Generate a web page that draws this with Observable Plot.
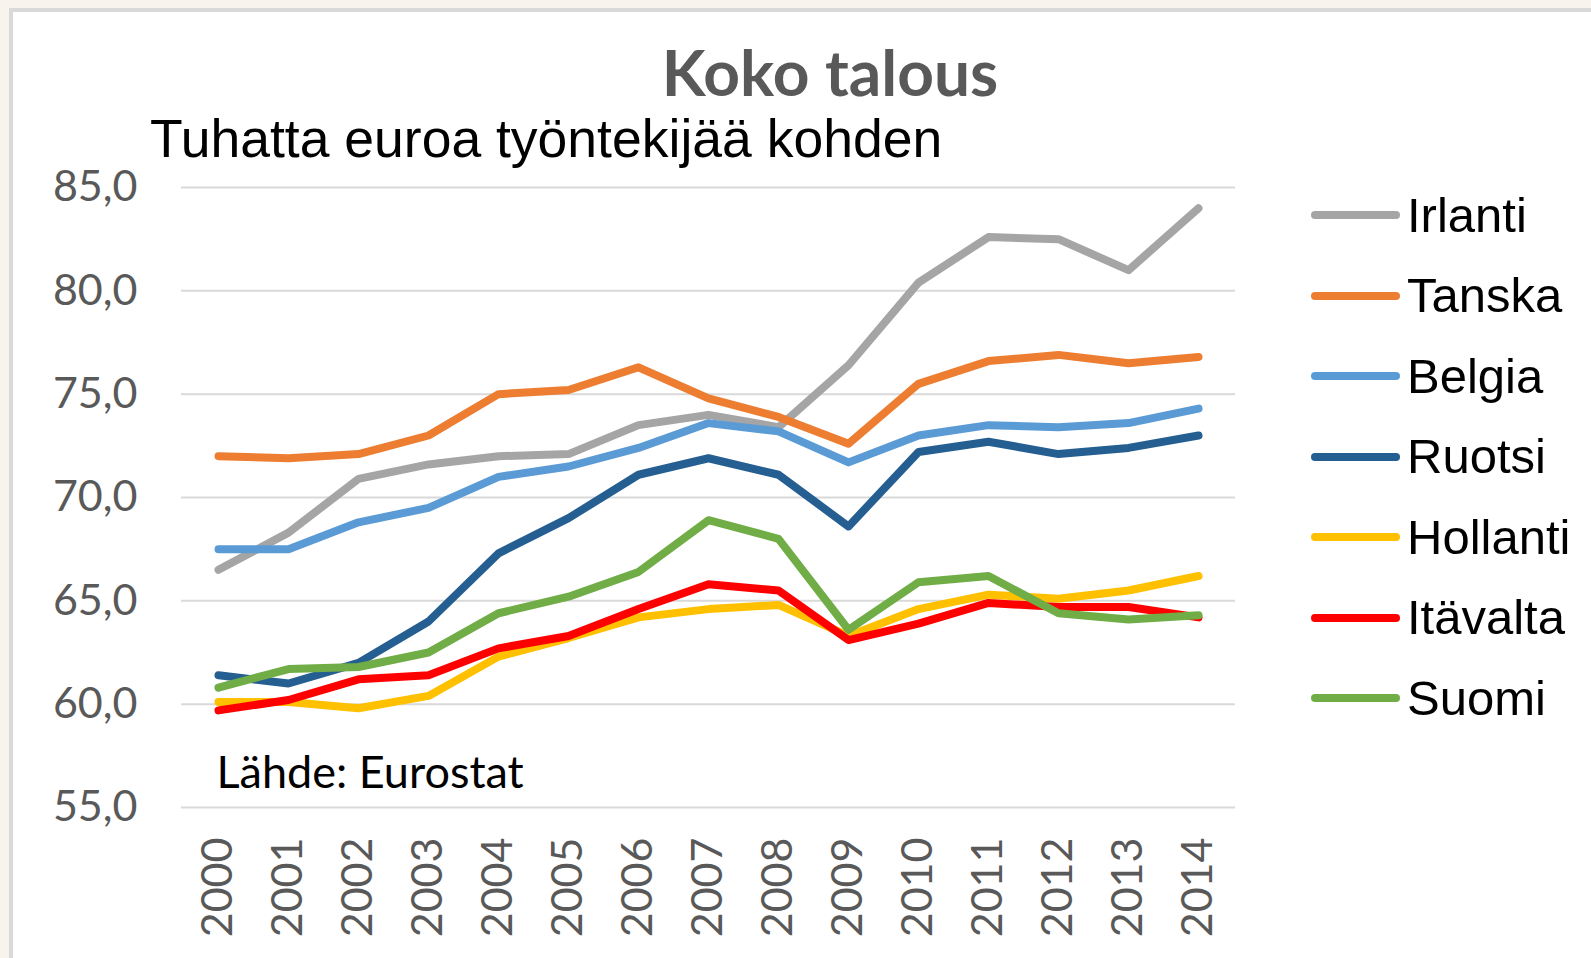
<!DOCTYPE html>
<html>
<head>
<meta charset="utf-8">
<script src="https://cdn.jsdelivr.net/npm/d3@7"></script>
<script src="https://cdn.jsdelivr.net/npm/@observablehq/plot@0.6"></script>
<style>
  html, body { margin: 0; padding: 0; }
  body { width: 1591px; height: 958px; overflow: hidden; position: relative; background: #f8f4ed; }
  #panel { position: absolute; left: 9px; top: 8px; width: 1600px; height: 970px; background: #ffffff;
           border-left: 4px solid #d9d9d9; border-top: 4px solid #d9d9d9; }
  #chart { position: absolute; left: 0; top: 0; }
  .txt { position: absolute; white-space: nowrap; line-height: 1; margin: 0; }
  #title { font-family: Lato, sans-serif; font-weight: 700; font-size: 64px; color: #595959; }
  #subtitle { font-family: "Liberation Sans", Arial, sans-serif; font-size: 53.5px; color: #000; }
  .leg-line { position: absolute; height: 8px; border-radius: 4px; }
  .leg-text { font-family: "Liberation Sans", Arial, sans-serif; font-size: 49px; color: #000; }
</style>
</head>
<body>
<div id="panel"></div>
<div id="chart"></div>
<h1 id="title" class="txt">Koko talous</h1>
<div id="subtitle" class="txt">Tuhatta euroa työntekijää kohden</div>
<div id="legend"></div>
<script>
// ---- data ----
const years = ["2000","2001","2002","2003","2004","2005","2006","2007","2008","2009","2010","2011","2012","2013","2014"];
const countries = ["Irlanti","Tanska","Belgia","Ruotsi","Hollanti","Itävalta","Suomi"];
const colors = ["#A5A5A5","#ED7D31","#5B9BD5","#255E91","#FFC000","#FF0000","#70AD47"];
const irlanti  = [66.5,68.3,70.9,71.6,72.0,72.1,73.5,74.0,73.4,76.4,80.4,82.6,82.5,81.0,84.0];
const tanska   = [72.0,71.9,72.1,73.0,75.0,75.2,76.3,74.8,73.9,72.6,75.5,76.6,76.9,76.5,76.8];
const belgia   = [67.5,67.5,68.8,69.5,71.0,71.5,72.4,73.6,73.2,71.7,73.0,73.5,73.4,73.6,74.3];
const ruotsi   = [61.4,61.0,62.0,64.0,67.3,69.0,71.1,71.9,71.1,68.6,72.2,72.7,72.1,72.4,73.0];
const hollanti = [60.1,60.1,59.8,60.4,62.3,63.2,64.2,64.6,64.8,63.3,64.6,65.3,65.1,65.5,66.2];
const itavalta = [59.7,60.2,61.2,61.4,62.7,63.3,64.6,65.8,65.5,63.1,63.9,64.9,64.7,64.7,64.2];
const suomi    = [60.8,61.7,61.8,62.5,64.4,65.2,66.4,68.9,68.0,63.6,65.9,66.2,64.4,64.1,64.3];
const yTicks = [55,60,65,70,75,80,85];
const source = "Lähde: Eurostat";

const series = [irlanti, tanska, belgia, ruotsi, hollanti, itavalta, suomi];
const rows = countries.flatMap((c, i) => years.map((y, j) => ({country: c, year: y, value: series[i][j]})));

const chart = Plot.plot({
  width: 1591,
  height: 958,
  marginLeft: 181,
  marginRight: 356,
  marginTop: 187,
  marginBottom: 151,
  style: {background: "transparent", fontFamily: "Lato, sans-serif", overflow: "visible"},
  x: {type: "point", domain: years, padding: 0.5},
  y: {domain: [55, 85]},
  color: {domain: countries, range: colors},
  marks: [
    Plot.ruleY(yTicks, {stroke: "#d9d9d9", strokeWidth: 2}),
    Plot.axisY({ticks: yTicks, tickSize: 0, tickPadding: 44, fontSize: 43, color: "#595959",
      tickFormat: d => d.toFixed(1).replace(".", ","), label: null}),
    Plot.axisX({tickRotate: -90, tickSize: 0, tickPadding: 30, fontSize: 43, color: "#595959", label: null}),
    Plot.lineY(rows, {x: "year", y: "value", z: "country", stroke: "country",
      strokeWidth: 8, strokeLinecap: "round", strokeLinejoin: "round"}),
    Plot.text([source], {text: d => d, frameAnchor: "bottom-left", textAnchor: "start",
      lineAnchor: "bottom", dx: 35, dy: -20, fontSize: 45, fill: "#000"})
  ]
});
document.getElementById("chart").appendChild(chart);

// ---- text positions (baseline based) ----
const title = document.getElementById("title");
title.style.left = "830px"; title.style.transform = "translateX(-50%)";
title.style.top = (97 - 0.887 * 64) + "px";
const sub = document.getElementById("subtitle");
sub.style.left = "150px"; sub.style.top = (157 - 0.8465 * 53.5) + "px";

// ---- legend ----
const legend = document.getElementById("legend");
countries.forEach((c, i) => {
  const cy = 215 + i * 80.5;
  const line = document.createElement("div");
  line.className = "leg-line";
  line.style.left = "1311px"; line.style.width = "89px";
  line.style.top = (cy - 4) + "px";
  line.style.background = colors[i];
  legend.appendChild(line);
  const t = document.createElement("div");
  t.className = "txt leg-text";
  t.textContent = c;
  t.style.left = "1407px";
  t.style.top = (cy + 17 - 0.8465 * 49) + "px";
  legend.appendChild(t);
});
</script>
</body>
</html>
